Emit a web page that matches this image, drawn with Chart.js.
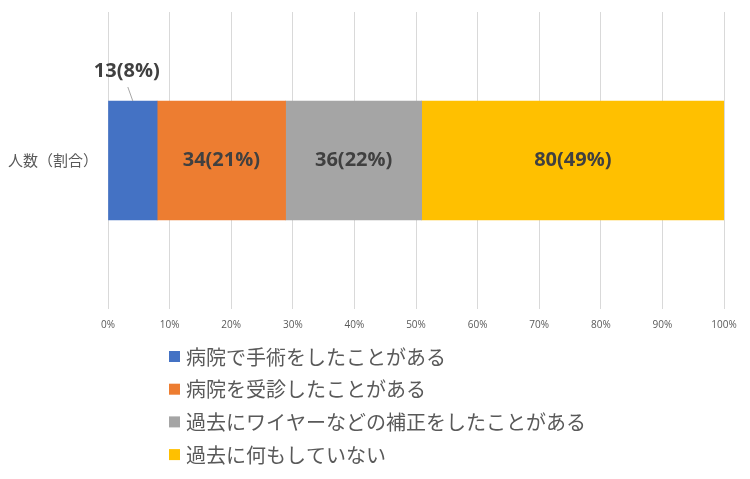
<!DOCTYPE html>
<html>
<head>
<meta charset="utf-8">
<script src="https://cdn.jsdelivr.net/npm/chart.js@4"></script>
<style>
    body { margin: 0; background: #ffffff; }
</style>
</head>
<body>
<canvas id="grafico" width="750" height="479"></canvas>
<script>
const categorias = ['人数（割合）']
const series = [
    '病院で手術をしたことがある',
    '病院を受診したことがある',
    '過去にワイヤーなどの補正をしたことがある',
    '過去に何もしていない'
]
const personas = [13, 34, 36, 80]
const colores = ['#4472C4', '#ED7D31', '#A5A5A5', '#FFC000']

const total = personas.reduce((a, b) => a + b, 0)
const porcentajes = personas.map(v => v / total * 100)

const JP = '"Noto Sans CJK JP", "Noto Sans", sans-serif'
const NUM = '"Open Sans", "Noto Sans", sans-serif'

// etiquetas de datos: dentro de la barra, o arriba con linea para la primera
const etiquetasPlugin = {
    id: 'etiquetas',
    afterDatasetsDraw(chart) {
        const ctx = chart.ctx
        ctx.save()
        ctx.font = 'bold 20px ' + NUM
        ctx.fillStyle = '#404040'
        ctx.textAlign = 'center'
        ctx.textBaseline = 'middle'
        chart.data.datasets.forEach((ds, i) => {
            const bar = chart.getDatasetMeta(i).data[0]
            const texto = personas[i] + '(' + Math.round(porcentajes[i]) + '%)'
            const cx = (bar.x + bar.base) / 2
            if (i === 0) {
                const top = bar.y - bar.height / 2
                ctx.strokeStyle = '#a6a6a6'
                ctx.lineWidth = 1
                ctx.beginPath()
                ctx.moveTo(cx - 5, top - 14)
                ctx.lineTo(cx, top)
                ctx.stroke()
                ctx.fillText(texto, cx - 6, top - 30)
            } else {
                ctx.fillText(texto, cx, bar.y)
            }
        })
        ctx.restore()
    }
}

// leyenda vertical debajo del grafico
const leyendaPlugin = {
    id: 'leyenda',
    afterDraw(chart) {
        const ctx = chart.ctx
        ctx.save()
        ctx.font = '20px ' + JP
        ctx.textAlign = 'left'
        ctx.textBaseline = 'middle'
        chart.data.datasets.forEach((ds, i) => {
            const y = 357 + i * 32.7
            ctx.fillStyle = ds.backgroundColor
            ctx.fillRect(169, y - 6, 11, 11)
            ctx.fillStyle = '#595959'
            ctx.fillText(ds.label, 186, y)
        })
        ctx.restore()
    }
}

const ctx = document.getElementById('grafico').getContext('2d')
new Chart(ctx, {
    type: 'bar',
    data: {
        labels: categorias,
        datasets: series.map((nombre, i) => ({
            label: nombre,
            data: [porcentajes[i]],
            backgroundColor: colores[i],
            borderWidth: 0,
            barThickness: 119
        }))
    },
    options: {
        indexAxis: 'y',
        responsive: false,
        animation: false,
        layout: {
            padding: { top: 12, right: 26, bottom: 139, left: 0 }
        },
        plugins: {
            legend: { display: false },
            tooltip: { enabled: false }
        },
        scales: {
            x: {
                stacked: true,
                min: 0,
                max: 100,
                afterFit(scale) { scale.height = 31 },
                ticks: {
                    stepSize: 10,
                    padding: 10,
                    color: '#595959',
                    font: { family: NUM, size: 10 },
                    callback: v => v + '%'
                },
                grid: {
                    color: '#d9d9d9',
                    drawTicks: false
                },
                border: { display: false }
            },
            y: {
                stacked: true,
                afterFit(scale) {
                    scale.width = 108
                    scale.paddingTop = 0
                    scale.paddingBottom = 0
                },
                ticks: {
                    padding: 10,
                    color: '#595959',
                    font: { family: JP, size: 15 }
                },
                grid: { display: false, drawTicks: false },
                border: { display: false }
            }
        }
    },
    plugins: [etiquetasPlugin, leyendaPlugin]
})
</script>
</body>
</html>
